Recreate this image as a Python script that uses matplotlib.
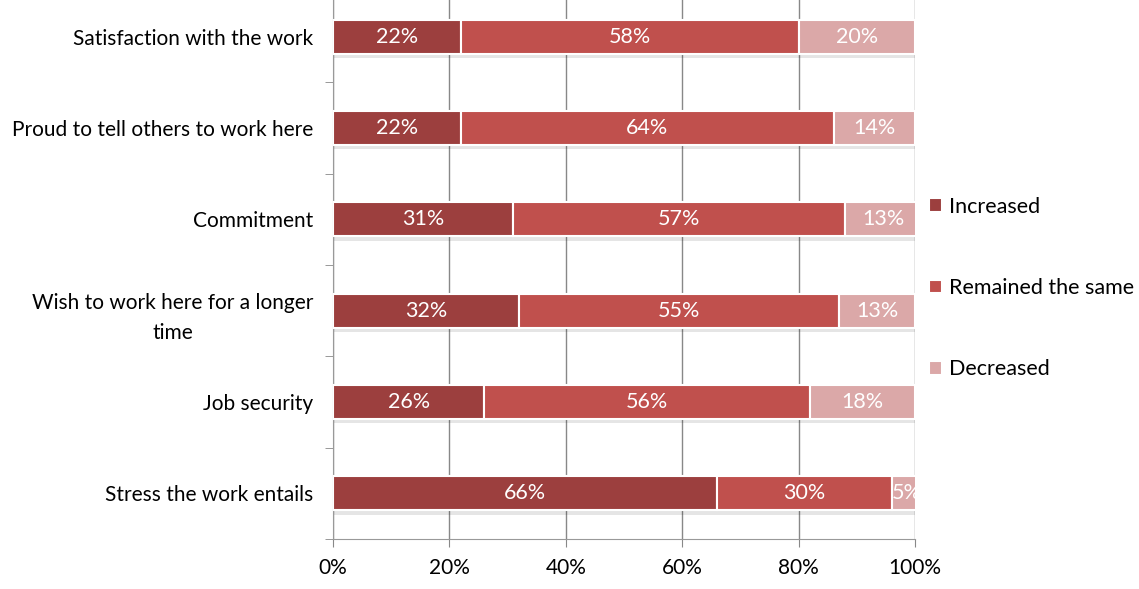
import matplotlib.pyplot as plt
import numpy as np

categories = ['Satisfaction with the work', 'Proud to tell others to work here',
              'Commitment', 'Wish to work here for a longer\ntime',
              'Job security', 'Stress the work entails']
increased = [22, 22, 31, 32, 26, 66]
same = [58, 64, 57, 55, 56, 30]
decreased = [20, 14, 13, 13, 18, 5]
series_names = ['Increased', 'Remained the same', 'Decreased']
colors = ['#9c3f3e', '#c0504d', '#dba8a8']

plt.rcParams['font.family'] = ['Lato', 'DejaVu Sans']

fig = plt.figure(figsize=(11.39, 5.89), dpi=100)
W, H = 1139, 589
ax = fig.add_axes([333 / W, (H - 539) / H, 582 / W, 548 / H])

y = np.arange(len(categories))
h = 0.37
left = np.zeros(len(categories))
handles = []
for vals, c, name in zip([increased, same, decreased], colors, series_names):
    vals = np.array(vals, dtype=float)
    # soft shadow under each segment
    ax.barh(y + 0.05, vals, h, left=left, color='#000000', alpha=0.1,
            zorder=2, linewidth=0)
    bars = ax.barh(y, vals, h, left=left, color=c, edgecolor='white',
                   linewidth=1.5, zorder=3, label=name)
    handles.append(bars)
    for yi, l, v in zip(y, left, vals):
        ax.text(l + v / 2, yi, f'{v:.0f}%', ha='center', va='center',
                color='white', fontsize=15.5, zorder=4)
    left += vals

ax.set_xlim(0, 100)
ax.set_ylim(len(categories) - 0.5, -0.5)
ax.set_xticks(np.arange(0, 101, 20))
ax.set_xticklabels([f'{t}%' for t in range(0, 101, 20)], fontsize=15)
ax.set_yticks(y)
ax.set_yticklabels(categories, fontsize=15, multialignment='center',
                   linespacing=1.65)
ax.tick_params(axis='y', length=0, pad=14)
ax.set_yticks(np.arange(-0.5, len(categories)), minor=True)
ax.tick_params(axis='y', which='minor', length=6, color='#888888')
ax.tick_params(axis='x', length=6, color='#888888', pad=8)
ax.xaxis.grid(True, color='#888888', linewidth=1, zorder=0)
ax.set_axisbelow(True)
for s in ['top', 'right']:
    ax.spines[s].set_visible(False)
for s in ['left', 'bottom']:
    ax.spines[s].set_color('#999999')

fig.legend(handles, series_names, loc='upper left',
           bbox_to_anchor=(920 / W, 1 - 188 / H), frameon=False,
           fontsize=15.5, handlelength=0.6, handleheight=0.6,
           handletextpad=0.35, labelspacing=2.85, borderaxespad=0)

fig.savefig('out.png', dpi=100)
